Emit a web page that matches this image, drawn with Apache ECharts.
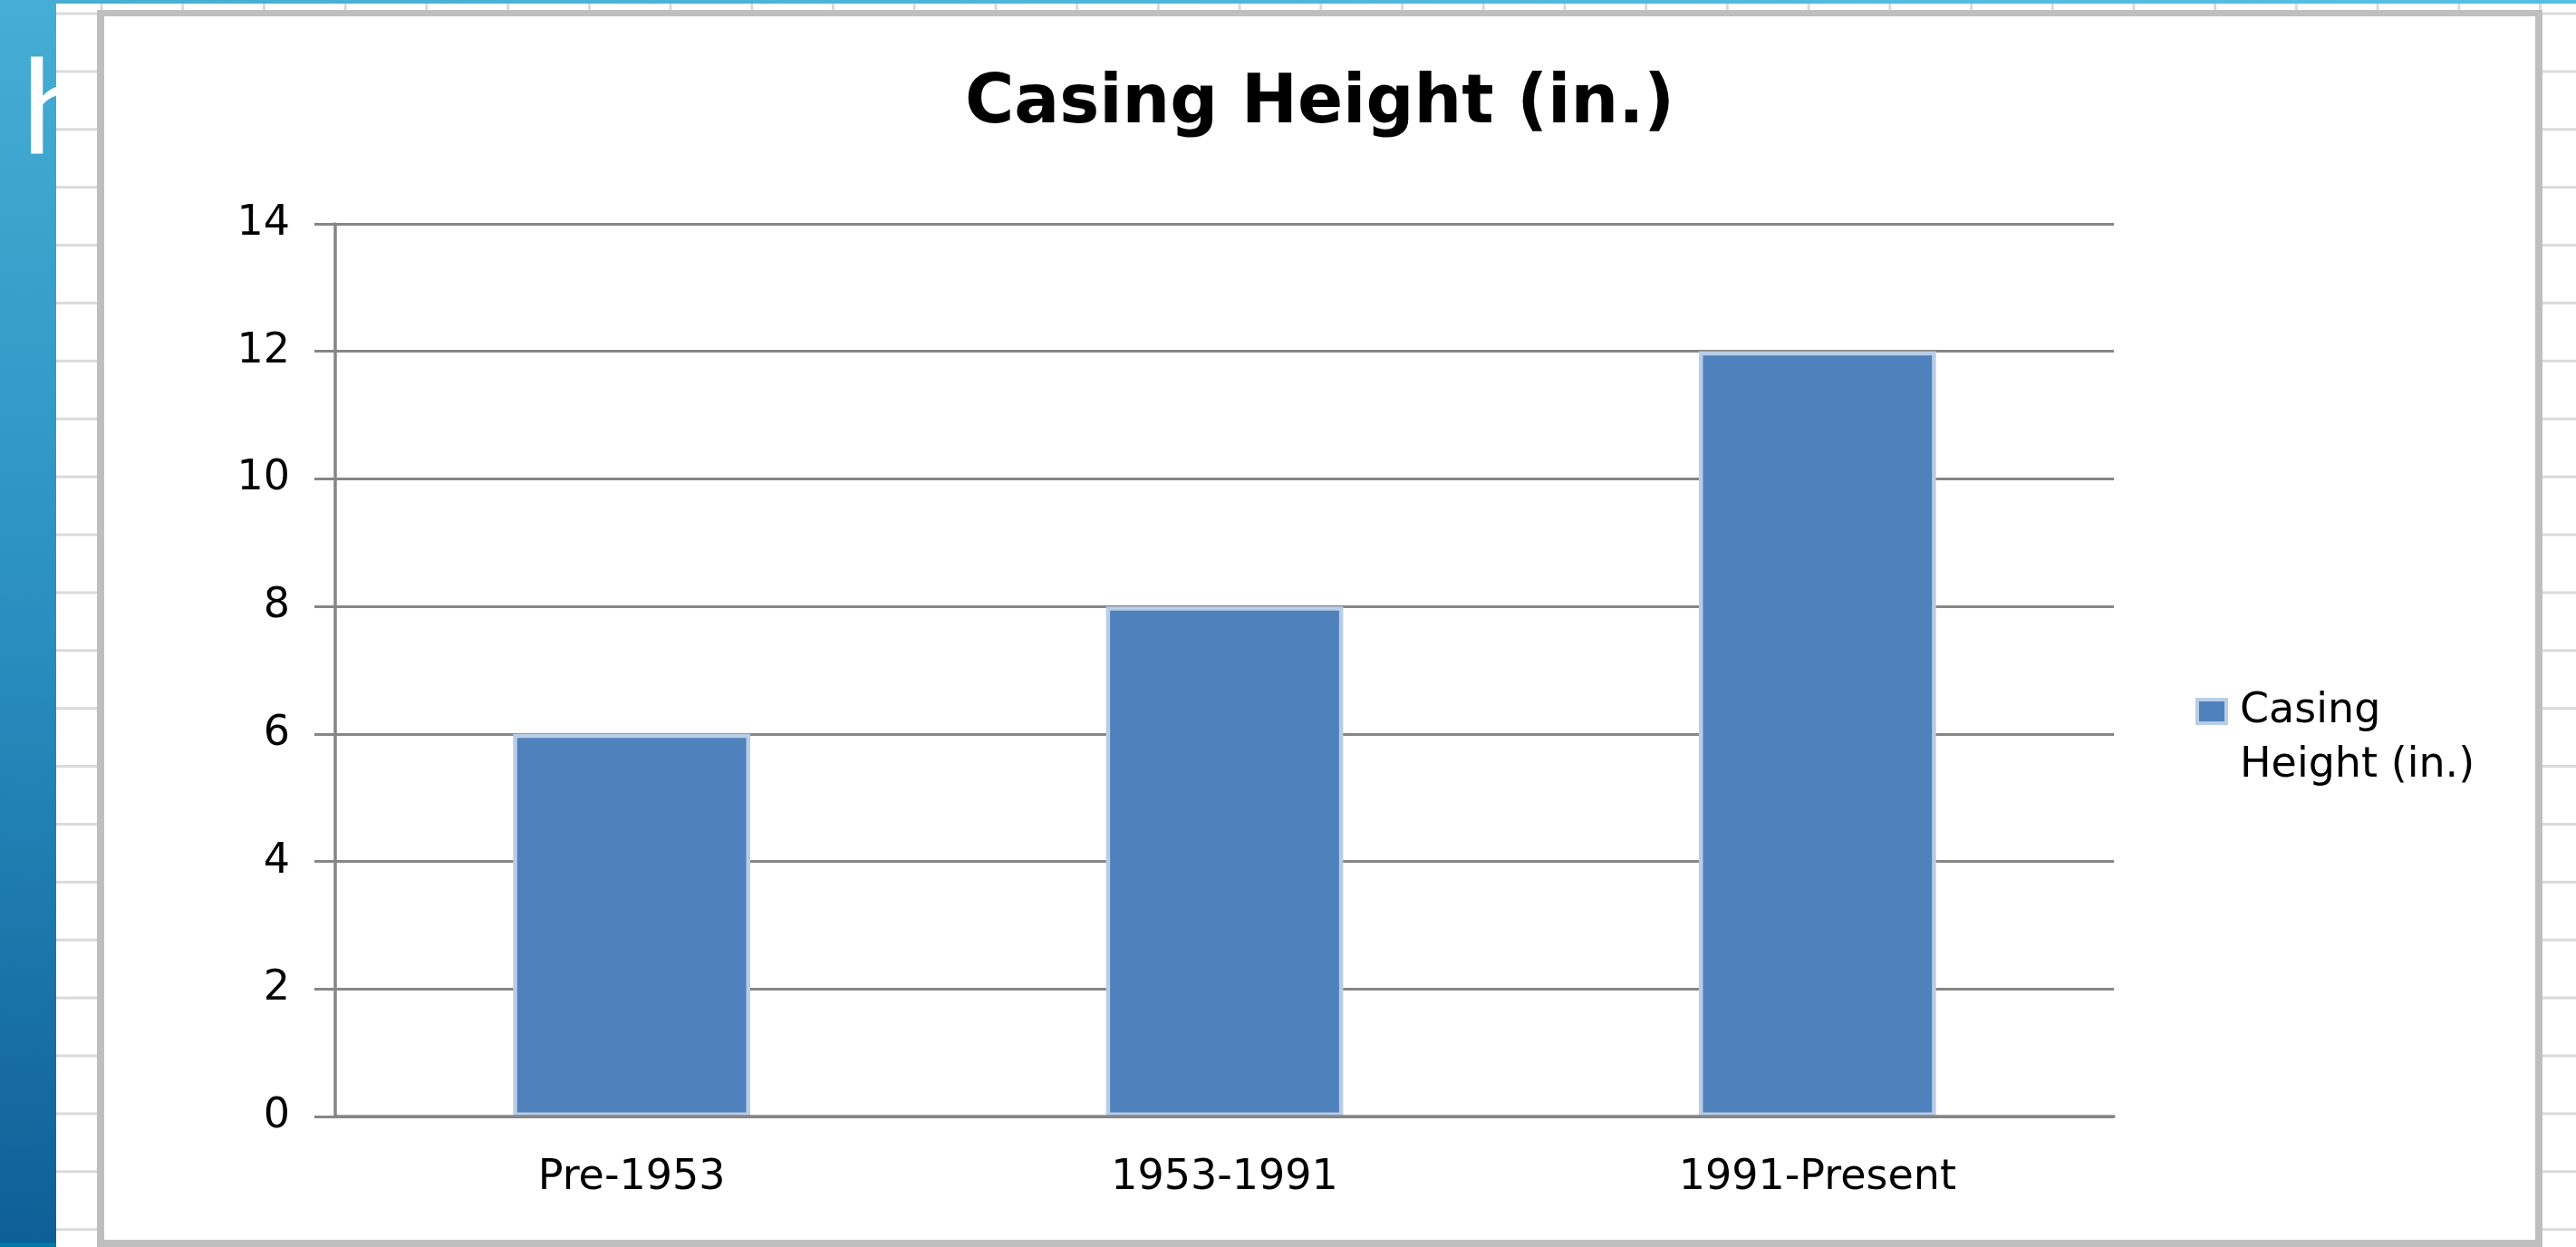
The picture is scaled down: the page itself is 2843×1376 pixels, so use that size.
<!DOCTYPE html>
<html>
<head>
<meta charset="utf-8">
<script src="https://cdn.jsdelivr.net/npm/echarts@6/dist/echarts.min.js"></script>
<style>
html,body{margin:0;padding:0;width:2843px;height:1376px;overflow:hidden;background:#fff;}
#sheet{position:absolute;left:62px;top:0;width:2781px;height:1376px;background-color:#fff;
 background-image:linear-gradient(to bottom,#dadada 0,#dadada 3px,transparent 3px),linear-gradient(to right,#dadada 0,#dadada 3px,transparent 3px);
 background-size:100% 63.9px,89.73px 100%;
 background-position:0 13.5px,48.5px 0;}
#topband{position:absolute;left:62px;top:0;width:2781px;height:4px;background:linear-gradient(to right,#4aaed3,#56c0e2);}
#strip{position:absolute;left:0;top:0;width:62px;height:1376px;background:linear-gradient(to bottom,#46aed4,#2a8fc0 50%,#0e5f97 99.6%,#0079a8 99.7%);overflow:hidden;}
#h{position:absolute;left:24px;top:42px;font-family:Lato,'Open Sans',sans-serif;font-weight:400;font-size:145px;line-height:1;color:#fff;}
#frame{position:absolute;left:107px;top:11px;width:2699px;height:1365px;box-sizing:border-box;border:8px solid #bfbfbf;border-top-width:7px;background:#fff;}
#chart{width:100%;height:100%;}
</style>
</head>
<body>
<div id="sheet"></div>
<div id="topband"></div>
<div id="strip"><span id="h">h</span></div>
<div id="frame"><div id="chart"></div></div>
<script>
const categories = ['Pre-1953', '1953-1991', '1991-Present'];
const casingHeight = [6, 8, 12];
const seriesName = 'Casing Height (in.)';
const chartTitle = 'Casing Height (in.)';
const yMin = 0, yMax = 14, yStep = 2;

const FONT = 'DejaVu Sans';
const chart = echarts.init(document.getElementById('chart'));
chart.setOption({
  animation: false,
  backgroundColor: '#ffffff',
  title: {
    text: chartTitle,
    left: 'center',
    top: 61,
    padding: 0,
    textStyle: { fontFamily: FONT, fontWeight: 'bold', fontSize: 74, color: '#000000' }
  },
  legend: {
    data: [seriesName],
    orient: 'vertical',
    left: 2308,
    top: 677,
    padding: 0,
    icon: 'rect',
    itemWidth: 32,
    itemHeight: 26,
    itemStyle: { color: '#4f81bd', borderColor: '#b9cde5', borderWidth: 4 },
    formatter: function (name) { return '\n' + name.replace(' ', '\n'); },
    textStyle: { fontFamily: FONT, fontSize: 46, color: '#000000', lineHeight: 60, padding: [0, 0, 0, 10] }
  },
  grid: { left: 255, top: 229, width: 1963, height: 985 },
  xAxis: {
    type: 'category',
    data: categories,
    z: 3,
    axisLine: { lineStyle: { color: '#868686', width: 3.5 } },
    axisTick: { length: 19, lineStyle: { color: '#868686', width: 3 } },
    axisLabel: { margin: 45, fontFamily: FONT, fontSize: 46, color: '#000000' },
    splitLine: { show: false }
  },
  yAxis: {
    type: 'value',
    min: yMin,
    max: yMax,
    interval: yStep,
    axisLine: { show: true, lineStyle: { color: '#868686', width: 3.5 } },
    axisTick: { show: true, length: 23, lineStyle: { color: '#868686', width: 3 } },
    axisLabel: { margin: 50, fontFamily: FONT, fontSize: 46, color: '#000000' },
    splitLine: { show: true, lineStyle: { color: '#868686', width: 3 } }
  },
  series: [{
    type: 'bar',
    name: seriesName,
    data: casingHeight,
    barWidth: '40%',
    itemStyle: { color: '#4f81bd', borderColor: '#b9cde5', borderWidth: 4.5 }
  }]
});
</script>
</body>
</html>
